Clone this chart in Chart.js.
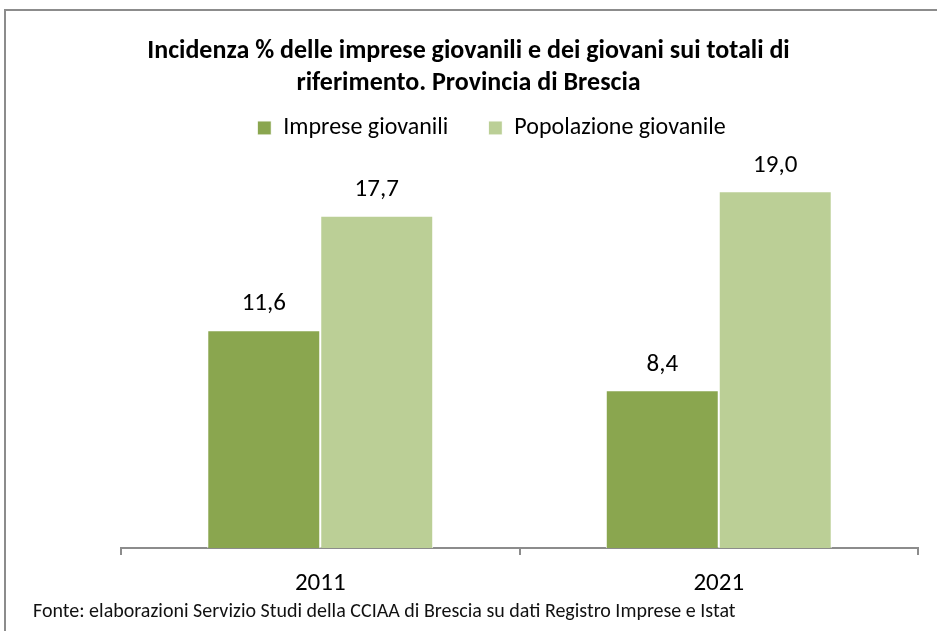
<!DOCTYPE html>
<html>
  <head>
    <meta charset="UTF-8" />
    <title>Incidenza imprese giovanili - Brescia</title>
    <script src="https://cdn.jsdelivr.net/npm/chart.js"></script>
    <style>
      body {
        margin: 0;
        padding: 0;
        background: #fff;
        font-family: Carlito, Lato, sans-serif;
        overflow: hidden;
      }
      #wrap {
        position: relative;
        width: 937px;
        height: 631px;
      }
      #frame {
        position: absolute;
        left: 4px;
        top: 9px;
        width: 1000px;
        height: 700px;
        border-top: 2px solid #8c8c8c;
        border-left: 2px solid #8c8c8c;
      }
      canvas {
        position: absolute;
        left: 0;
        top: 0;
      }
      #fonte {
        position: absolute;
        left: 33px;
        top: 597px;
        font-size: 20px;
        line-height: 26px;
        color: #111;
        white-space: nowrap;
      }
    </style>
  </head>
  <body>
    <div id="wrap">
      <div id="frame"></div>
      <canvas id="myChart" width="937" height="631"></canvas>
      <div id="fonte">Fonte: elaborazioni Servizio Studi della CCIAA di Brescia su dati Registro Imprese e Istat</div>
    </div>
    <script>
      const categories = ['2011', '2021'];
      const impreseGiovanili = [11.6, 8.4];
      const popolazioneGiovanile = [17.7, 19.0];

      const fontFamily = 'Carlito, Lato, sans-serif';

      // values written above each bar, with a decimal comma
      const valueLabels = {
        id: 'valueLabels',
        afterDatasetsDraw(chart) {
          const ctx = chart.ctx;
          ctx.save();
          ctx.font = '25px ' + fontFamily;
          ctx.fillStyle = '#000';
          ctx.textAlign = 'center';
          ctx.textBaseline = 'middle';
          chart.data.datasets.forEach((ds, i) => {
            chart.getDatasetMeta(i).data.forEach((bar, j) => {
              const txt = ds.data[j].toFixed(1).replace('.', ',');
              ctx.fillText(txt, bar.x, bar.y - 26);
            });
          });
          ctx.restore();
        }
      };

      // the legend in the original sits a bit right of centre
      const legendShift = {
        id: 'legendShift',
        afterLayout(chart) {
          chart.legend.left += 23;
          chart.legend.right += 23;
        }
      };

      const ctx = document.getElementById('myChart').getContext('2d');
      new Chart(ctx, {
        type: 'bar',
        data: {
          labels: categories,
          datasets: [
            {
              label: 'Imprese giovanili',
              data: impreseGiovanili,
              backgroundColor: '#8aa64f',
              borderColor: '#ffffff',
              borderWidth: 1
            },
            {
              label: 'Popolazione giovanile',
              data: popolazioneGiovanile,
              backgroundColor: '#bbcf96',
              borderColor: '#ffffff',
              borderWidth: 1
            }
          ]
        },
        options: {
          responsive: false,
          animation: false,
          categoryPercentage: 0.567,
          barPercentage: 1,
          layout: {
            padding: { left: 19, right: 19, top: 36, bottom: 18 }
          },
          plugins: {
            title: {
              display: true,
              text: ['Incidenza % delle imprese giovanili e dei giovani sui totali di',
                     'riferimento. Provincia di Brescia'],
              color: '#000',
              font: { family: fontFamily, size: 26, weight: 'bold', lineHeight: 1.23 },
              padding: { top: 0, bottom: -24 }
            },
            legend: {
              labels: {
                color: '#000',
                boxWidth: 14,
                boxHeight: 14,
                padding: 40,
                font: { family: fontFamily, size: 24 }
              }
            },
            tooltip: { enabled: false }
          },
          scales: {
            x: {
              grid: {
                drawOnChartArea: false,
                drawTicks: true,
                tickLength: 7,
                color: '#8c8c8c',
                lineWidth: 2
              },
              border: { display: true, color: '#8c8c8c', width: 2 },
              ticks: {
                color: '#000',
                padding: 14,
                font: { family: fontFamily, size: 25 }
              }
            },
            y: {
              min: 0,
              max: 21.2,
              grid: { display: false },
              border: { display: false },
              ticks: { display: false },
              afterFit(scale) { scale.width = 102; }
            }
          }
        },
        plugins: [valueLabels, legendShift]
      });
    </script>
  </body>
</html>
